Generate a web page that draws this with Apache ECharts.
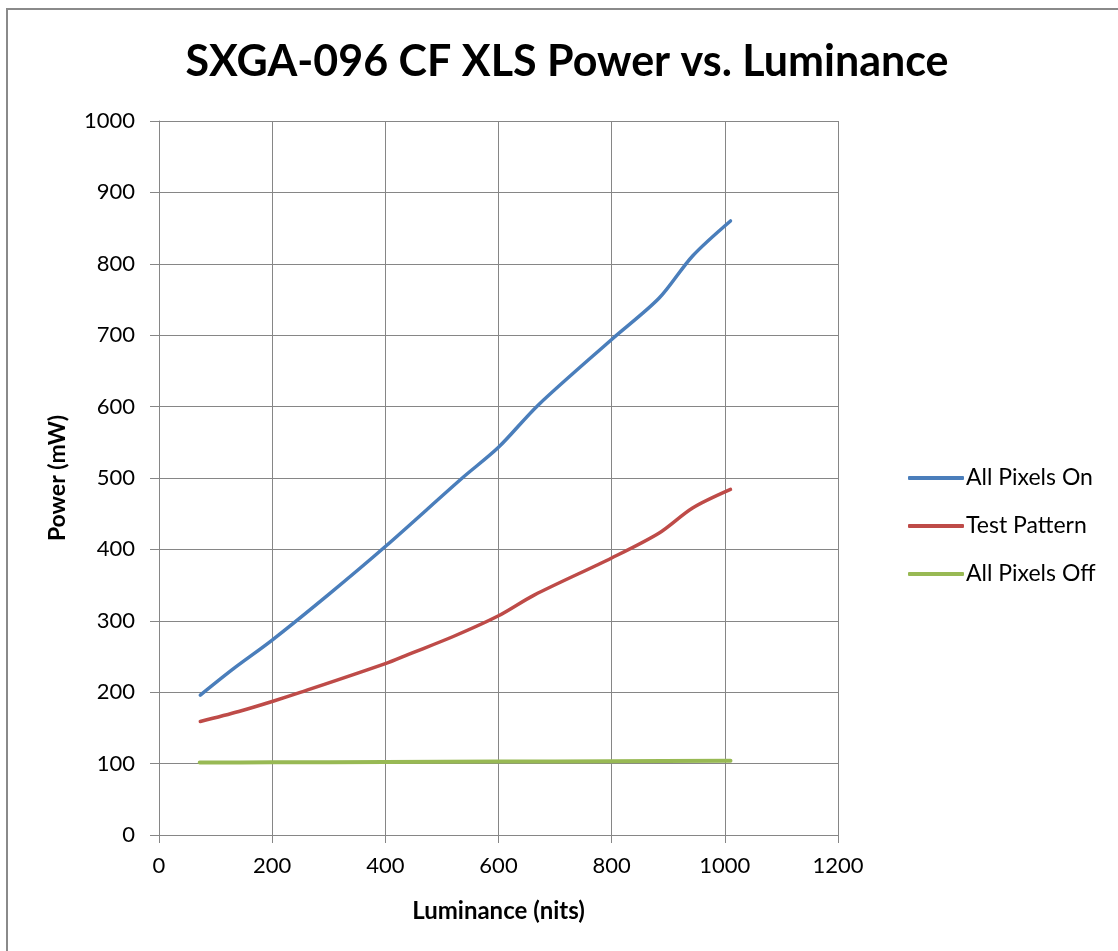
<!DOCTYPE html>
<html>
<head>
<meta charset="utf-8">
<script src="https://cdn.jsdelivr.net/npm/echarts@6/dist/echarts.min.js"></script>
<style>
html,body{margin:0;padding:0;background:#fff;}
#chart{width:1118px;height:951px;}
</style>
</head>
<body>
<div id="chart"></div>
<script>
const titleText = 'SXGA-096 CF XLS Power vs. Luminance';
const xAxisName = 'Luminance (nits)';
const yAxisName = 'Power (mW)';
const seriesNames = ['All Pixels On', 'Test Pattern', 'All Pixels Off'];

const onLum   = [73, 130, 200, 300, 400, 536, 600, 670, 800, 884, 943, 1010];
const onPower = [196, 232, 273, 337, 404, 500, 543, 602, 694, 752, 811, 860];

const testLum   = [73, 141, 200, 251, 400, 441, 520, 600, 663, 800, 884, 943, 1010];
const testPower = [159, 173, 187, 200, 240, 253, 278, 307, 336, 388, 423, 458, 484];

const offLum   = [72, 200, 400, 600, 800, 1010];
const offPower = [101.5, 101.8, 102.3, 102.8, 103.4, 104];

const colors = ['#4A7EBB', '#BE4B48', '#98B954'];

function pairs(xs, ys){ return xs.map((x,i)=>[x, ys[i]]); }

const FONT = 'Lato';
const chart = echarts.init(document.getElementById('chart'));
const mkSeries = (name, xs, ys, c, w) => ({
  name: name, type: 'line', data: pairs(xs, ys), smooth: 0.3,
  showSymbol: false, symbol: 'none',
  lineStyle: {color: c, width: w, cap: 'round'},
  itemStyle: {color: c}
});
chart.setOption({
  backgroundColor: '#fff',
  animation: false,
  title: {
    text: titleText, left: 562, top: 36, textAlign: 'center',
    textStyle: {fontFamily: FONT, fontWeight: 'bold', fontSize: 43, color: '#000'}
  },
  graphic: [{
    type: 'rect', shape: {x: 7, y: 9, width: 1200, height: 1000},
    style: {fill: 'none', stroke: '#8a8a8a', lineWidth: 2}, silent: true
  }],
  legend: {
    orient: 'vertical', left: 903, top: 461, itemGap: 24,
    icon: 'roundRect', itemWidth: 56, itemHeight: 4,
    textStyle: {fontFamily: FONT, fontSize: 23, lineHeight: 24, color: '#000', padding: [0,0,0,-3]},
    data: seriesNames
  },
  grid: {left: 159, top: 121, width: 679, height: 714, containLabel: false},
  xAxis: {
    type: 'value', min: 0, max: 1200, interval: 200,
    name: xAxisName, nameLocation: 'middle', nameGap: 64,
    nameTextStyle: {fontFamily: FONT, fontWeight: 'bold', fontSize: 24, color: '#000'},
    axisLine: {show: true, lineStyle: {color: '#868686', width: 1}},
    axisTick: {show: true, inside: false, length: 8, lineStyle: {color: '#868686'}},
    axisLabel: {fontFamily: FONT, fontSize: 22, color: '#000', margin: 20, formatter: v => String(v)},
    splitLine: {show: true, lineStyle: {color: '#868686', width: 1}}
  },
  yAxis: {
    type: 'value', min: 0, max: 1000, interval: 100,
    name: yAxisName, nameLocation: 'middle', nameGap: 90, nameRotate: 90,
    nameTextStyle: {fontFamily: FONT, fontWeight: 'bold', fontSize: 23, color: '#000'},
    axisLine: {show: true, lineStyle: {color: '#868686', width: 1}},
    axisTick: {show: true, inside: false, length: 9, lineStyle: {color: '#868686'}},
    axisLabel: {fontFamily: FONT, fontSize: 22, color: '#000', margin: 24, formatter: v => String(v)},
    splitLine: {show: true, lineStyle: {color: '#868686', width: 1}}
  },
  series: [
    mkSeries(seriesNames[0], onLum, onPower, colors[0], 3.5),
    mkSeries(seriesNames[1], testLum, testPower, colors[1], 3.5),
    mkSeries(seriesNames[2], offLum, offPower, colors[2], 4)
  ]
});
</script>
</body>
</html>
